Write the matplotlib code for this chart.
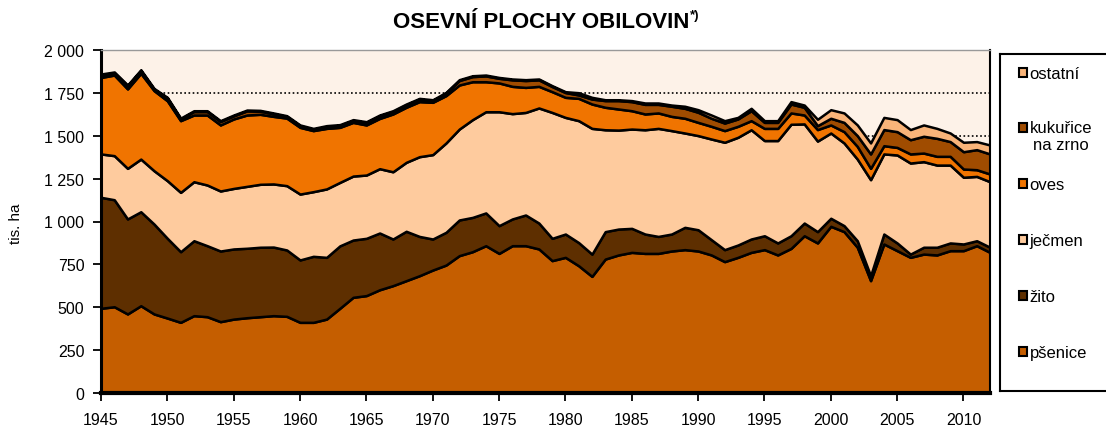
import numpy as np
import matplotlib
matplotlib.use("Agg")
import matplotlib.pyplot as plt
from matplotlib.patches import Rectangle
from matplotlib.ticker import FuncFormatter, MultipleLocator

plt.rcParams['font.family'] = ['Liberation Sans', 'DejaVu Sans']

# hodnoty v tis. ha
years = list(range(1945, 2013))

psenice = [494, 503, 461, 509, 461, 437, 412, 451, 445, 416,
           431, 439, 445, 451, 447, 412, 412, 431, 494, 558,
           568, 602, 626, 655, 684, 717, 746, 801, 824, 859,
           814, 859, 859, 840, 772, 791, 742, 680, 781, 805,
           820, 814, 814, 828, 836, 828, 805, 766, 791, 820,
           836, 805, 843, 917, 875, 972, 941, 850, 655, 869,
           830, 791, 810, 805, 830, 830, 859, 820]
zito = [647, 624, 554, 548, 524, 465, 412, 437, 414, 412,
        409, 405, 405, 400, 387, 364, 385, 360, 364, 334,
        334, 331, 272, 288, 229, 181, 191, 208, 200, 191,
        162, 156, 179, 151, 130, 136, 135, 130, 160, 151,
        140, 113, 99, 99, 130, 124, 89, 70, 72, 78,
        81, 70, 74, 74, 66, 47, 35, 38, 29, 58,
        45, 19, 40, 45, 45, 39, 29, 30]
jecmen = [253, 257, 295, 307, 311, 336, 346, 344, 354, 350,
          353, 361, 367, 368, 375, 384, 377, 399, 370, 373,
          369, 375, 392, 402, 465, 492, 521, 530, 570, 590,
          664, 614, 598, 671, 734, 680, 711, 733, 594, 577,
          579, 608, 630, 603, 550, 549, 587, 626, 628, 637,
          555, 597, 650, 578, 528, 497, 482, 476, 560, 467,
          513, 531, 499, 479, 454, 389, 375, 382]
oves = [446, 470, 463, 500, 467, 466, 418, 389, 408, 385,
        405, 416, 408, 394, 394, 389, 356, 353, 321, 313,
        292, 293, 337, 321, 321, 305, 276, 257, 221, 175,
        168, 159, 146, 126, 121, 117, 130, 142, 131, 123,
        107, 92, 90, 83, 86, 77, 74, 68, 64, 53,
        71, 71, 66, 52, 67, 47, 66, 74, 66, 48,
        44, 53, 50, 51, 51, 48, 39, 45]
kukurice = [15, 13, 18, 16, 8, 15, 10, 20, 20, 20,
            18, 24, 18, 15, 9, 9, 8, 11, 11, 11,
            14, 15, 14, 14, 14, 10, 14, 26, 30, 34,
            27, 38, 40, 38, 30, 28, 20, 29, 39, 49,
            53, 56, 50, 59, 58, 59, 47, 44, 43, 58,
            35, 35, 52, 45, 23, 39, 54, 63, 84, 94,
            92, 83, 98, 105, 86, 101, 117, 117]
ostatni = [5, 5, 5, 5, 5, 5, 5, 5, 5, 5,
           5, 5, 5, 5, 5, 5, 5, 5, 5, 5,
           5, 5, 5, 5, 5, 5, 5, 5, 5, 5,
           5, 5, 5, 5, 5, 5, 13, 10, 5, 5,
           6, 8, 8, 7, 12, 15, 19, 14, 9, 14,
           10, 10, 14, 13, 37, 50, 55, 62, 64, 71,
           70, 59, 66, 58, 50, 55, 47, 52]

labels = ['pšenice', 'žito', 'ječmen', 'oves', 'kukuřice\nna zrno', 'ostatní']
colors = ['#C55E00', '#5E2F00', '#FECB9E', '#F07400', '#A04C00', '#F9B479']

W, H = 1106, 427
fig = plt.figure(figsize=(W / 100, H / 100), dpi=100)

# plocha grafu v pixelech
left, right, top, bottom = 101, 990, 51, 394
ax = fig.add_axes([left / W, (H - bottom) / H, (right - left) / W, (bottom - top) / H])
ax.set_facecolor('#FDF2E8')

ax.stackplot(years, psenice, zito, jecmen, oves, kukurice, ostatni,
             colors=colors, edgecolor='black', linewidth=1.8, zorder=2)

ax.set_xlim(1945, 2012)
ax.set_ylim(0, 2000)
ax.xaxis.set_major_locator(MultipleLocator(5))
ax.yaxis.set_major_locator(MultipleLocator(250))
ax.yaxis.set_major_formatter(FuncFormatter(lambda v, p: f"{int(v):,}".replace(",", " ")))

ax.set_axisbelow(True)
ax.yaxis.grid(True, color='black', linestyle=(0, (1, 1.5)), linewidth=1.2)

for s in ['left', 'bottom']:
    ax.spines[s].set_color('black')
ax.spines['left'].set_linewidth(2.2)
ax.spines['bottom'].set_linewidth(3)
ax.spines['right'].set_linewidth(1.5)
ax.spines['top'].set_color('#999999')
ax.spines['top'].set_linewidth(1)
for s in ax.spines.values():
    s.set_zorder(5)

ax.tick_params(axis='both', direction='out', length=6, width=1.3, labelsize=11.5, colors='black')
ax.tick_params(axis='x', pad=8)
ax.tick_params(axis='y', pad=6)

fig.text(16 / W, 1 - 224 / H, 'tis. ha', rotation=90, ha='center', va='center', fontsize=11)

# titulek
ttl = fig.text(541 / W, 1 - 22 / H, 'OSEVNÍ PLOCHY OBILOVIN', ha='center', va='center',
               fontsize=16, fontweight='bold')
fig.canvas.draw()
bb = ttl.get_window_extent(renderer=fig.canvas.get_renderer())
fig.text((bb.x1 + 1) / W, (bb.y1 - 4) / H, '*)', ha='left', va='center',
         fontsize=9.5, fontweight='bold')

# legenda
lax = fig.add_axes([1000 / W, (H - 391.5) / H, 120 / W, (391.5 - 55) / H])
lax.set_xlim(0, 120)
lax.set_ylim(391.5 - 55, 0)
lax.set_xticks([])
lax.set_yticks([])
for s in lax.spines.values():
    s.set_linewidth(1.5)
    s.set_color('black')

leg_y = [297, 241, 185, 129, 73, 18]
for lab, col, yy in zip(labels, colors, leg_y):
    lax.add_patch(Rectangle((19, yy - 4.5), 8, 9, facecolor=col, edgecolor='black', linewidth=1.5))
    if '\n' in lab:
        lax.text(29.5, yy - 7, lab, ha='left', va='top', fontsize=12, multialignment='center',
                 linespacing=1.15)
    else:
        lax.text(29.5, yy + 1.5, lab, ha='left', va='center', fontsize=12)

fig.savefig('out.png', dpi=100)
